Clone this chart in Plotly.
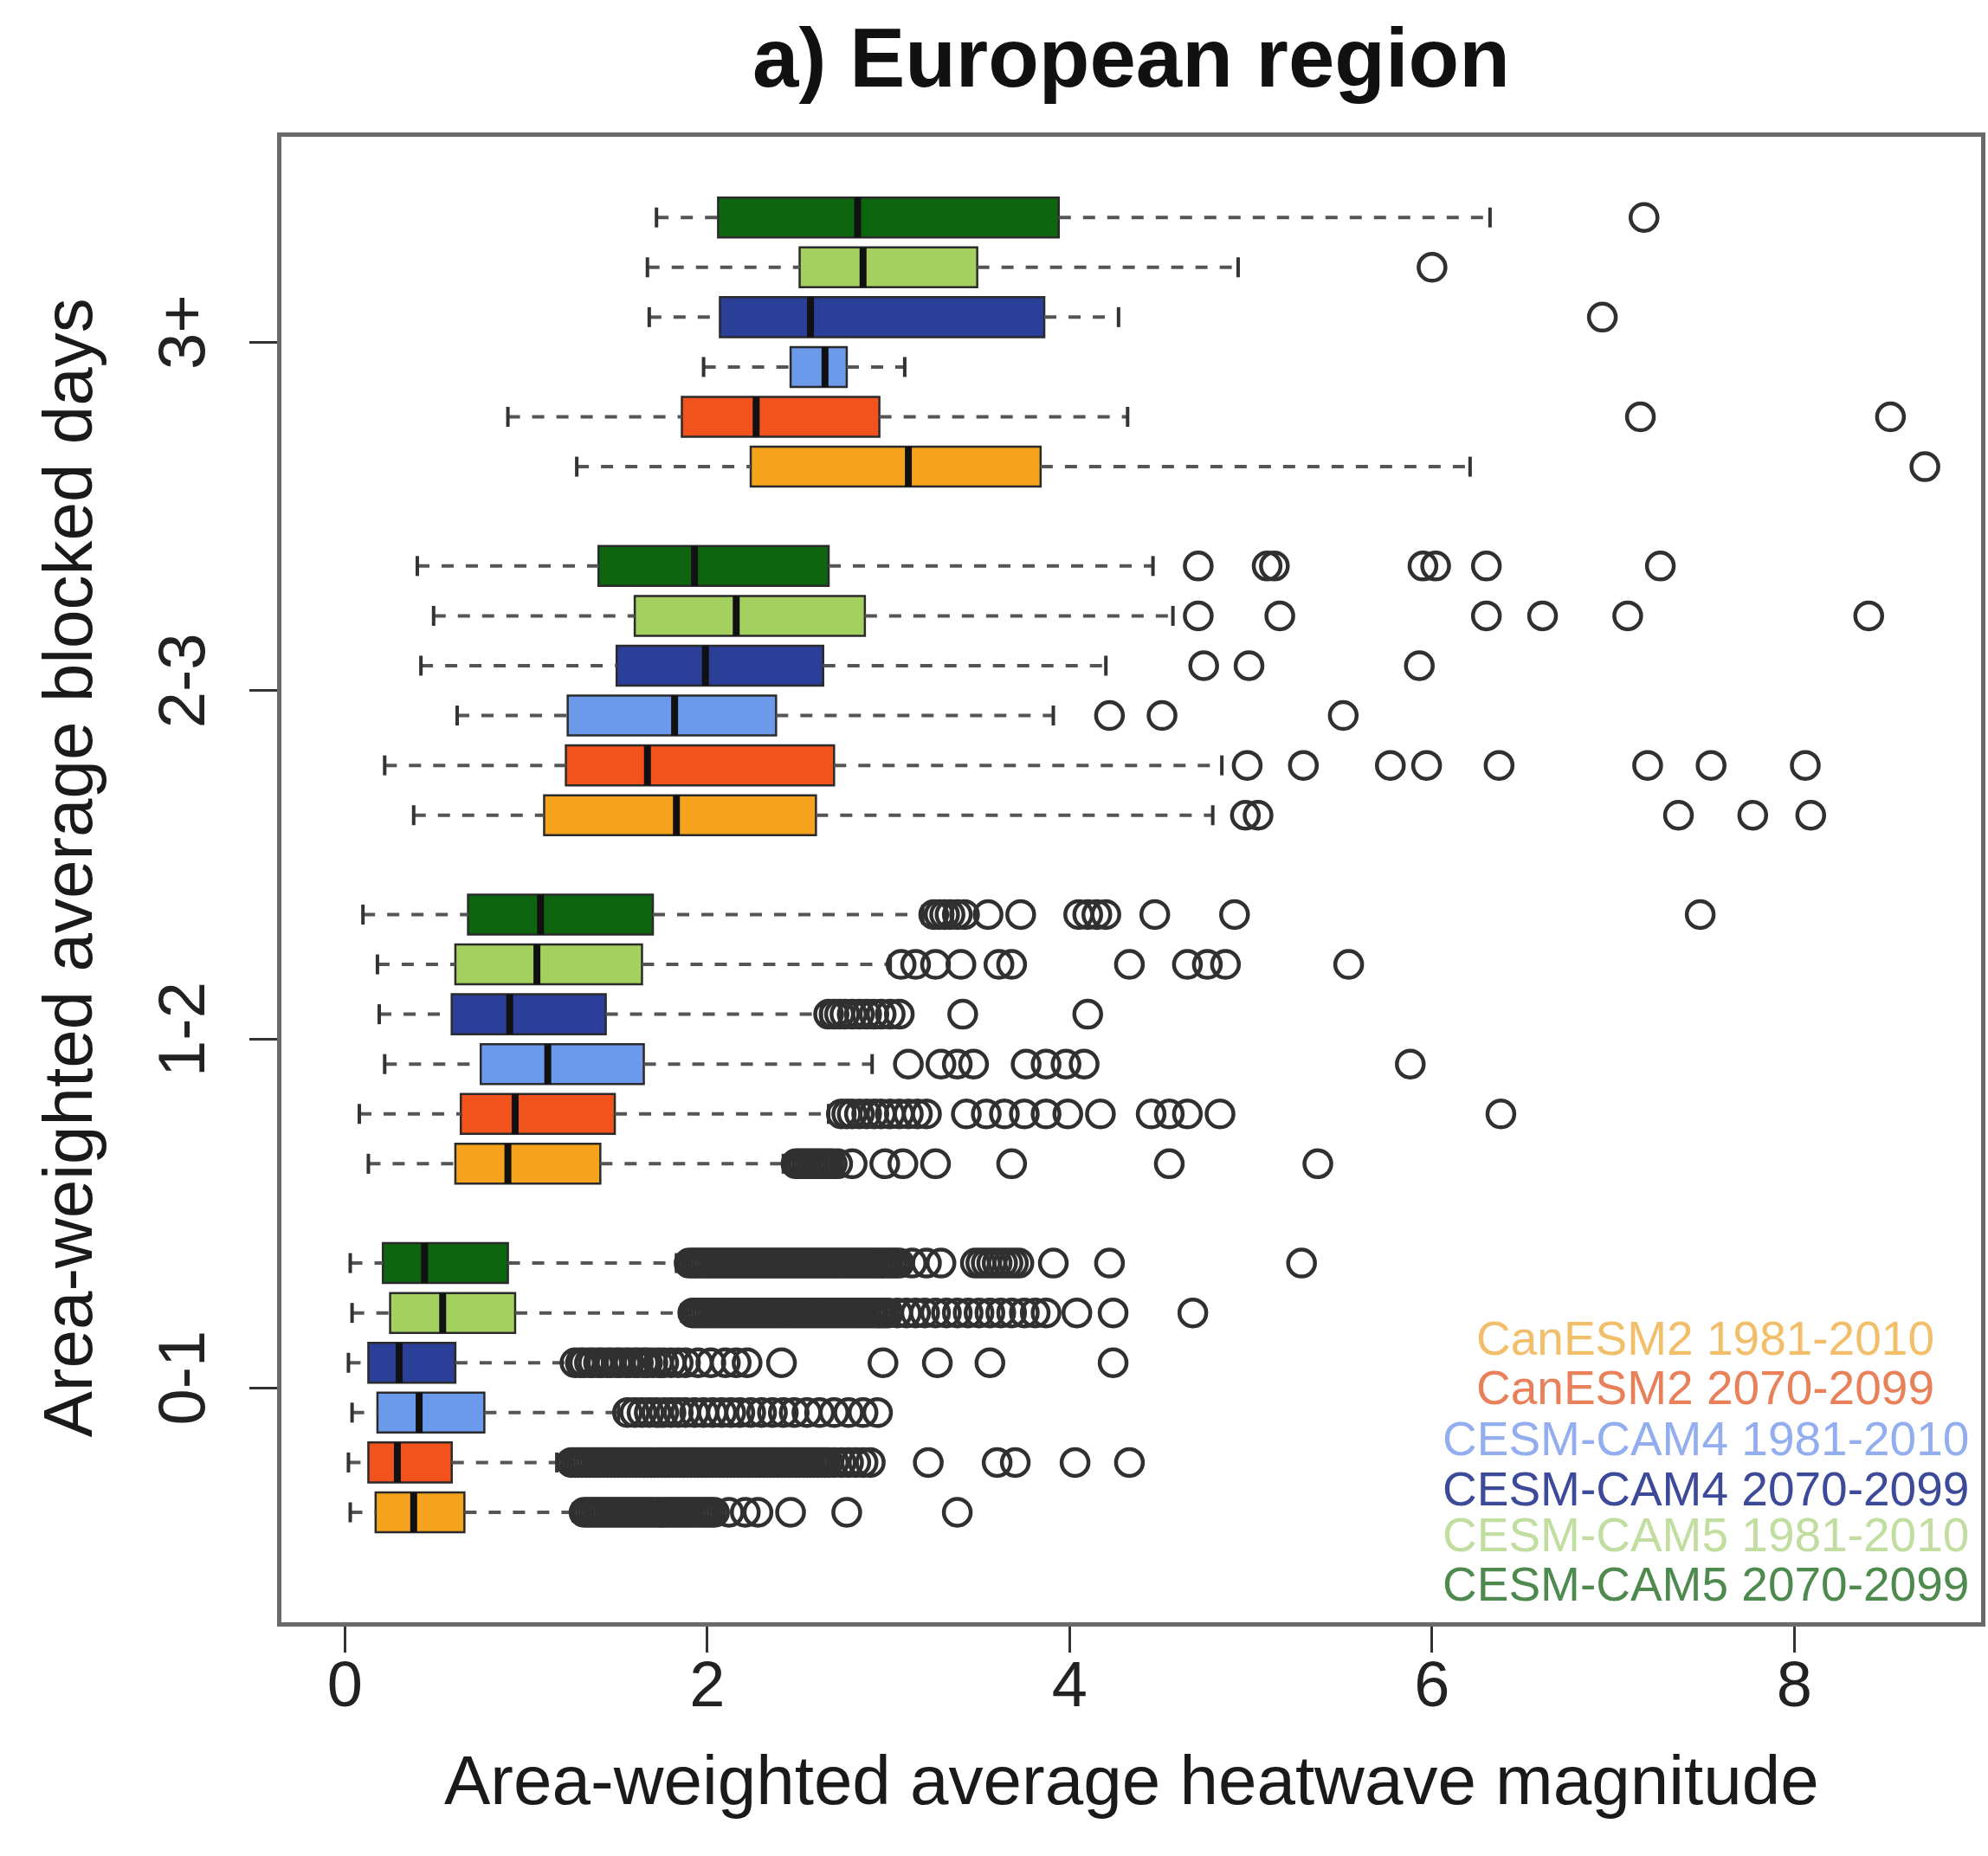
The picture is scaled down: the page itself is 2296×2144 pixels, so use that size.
import plotly.graph_objects as go

# Blocking categories (y axis) and model runs (one box per run in every category)
categories = ["0-1", "1-2", "2-3", "3+"]
series = [
    "CanESM2 1981-2010",
    "CanESM2 2070-2099",
    "CESM-CAM4 1981-2010",
    "CESM-CAM4 2070-2099",
    "CESM-CAM5 1981-2010",
    "CESM-CAM5 2070-2099",
]
box_colors = ["#F5A31C", "#F2521C", "#6B9AEA", "#2B3F98", "#A3D05E", "#0D650F"]
label_colors = ["#F2BE6A", "#E8805A", "#93AEEE", "#3D4A9A", "#C2DDA0", "#4E8A4E"]

# Box statistics: one row per run, columns follow `categories`
whisker_low = [
    [0.03, 0.13, 0.38, 1.28],
    [0.02, 0.08, 0.22, 0.90],
    [0.04, 0.22, 0.62, 1.98],
    [0.02, 0.19, 0.42, 1.68],
    [0.04, 0.18, 0.49, 1.67],
    [0.03, 0.10, 0.40, 1.72],
]
quart_1 = [
    [0.17, 0.61, 1.10, 2.24],
    [0.13, 0.64, 1.22, 1.86],
    [0.18, 0.75, 1.23, 2.46],
    [0.13, 0.59, 1.50, 2.07],
    [0.25, 0.61, 1.60, 2.51],
    [0.21, 0.68, 1.40, 2.06],
]
medians = [
    [0.38, 0.90, 1.83, 3.11],
    [0.29, 0.94, 1.67, 2.27],
    [0.41, 1.12, 1.82, 2.65],
    [0.30, 0.91, 1.99, 2.57],
    [0.54, 1.06, 2.16, 2.86],
    [0.44, 1.08, 1.93, 2.83],
]
quart_3 = [
    [0.66, 1.41, 2.60, 3.84],
    [0.59, 1.49, 2.70, 2.95],
    [0.77, 1.65, 2.38, 2.77],
    [0.61, 1.44, 2.64, 3.86],
    [0.94, 1.64, 2.87, 3.49],
    [0.90, 1.70, 2.67, 3.94],
]
whisker_high = [
    [1.26, 2.42, 4.79, 6.21],
    [1.17, 2.67, 4.84, 4.32],
    [1.51, 2.91, 3.91, 3.09],
    [1.24, 2.63, 4.20, 4.27],
    [1.86, 3.01, 4.57, 4.93],
    [1.83, 3.19, 4.46, 6.32],
]

# Outlying events per run, one list per category
outliers_canesm2_hist = [
    [1.32, 1.34, 1.36, 1.38, 1.40, 1.42, 1.44, 1.46, 1.48, 1.50, 1.52, 1.54, 1.56,
     1.58, 1.60, 1.62, 1.64, 1.66, 1.68, 1.70, 1.72, 1.74, 1.76, 1.78, 1.80, 1.82,
     1.84, 1.86, 1.88, 1.90, 1.92, 1.94, 1.96, 1.98, 2.00, 2.02, 2.04, 2.12, 2.21,
     2.28, 2.46, 2.77, 3.38],
    [2.49, 2.51, 2.53, 2.55, 2.57, 2.59, 2.61, 2.63, 2.65, 2.67, 2.69, 2.72, 2.80,
     2.98, 3.08, 3.26, 3.68, 4.55, 5.37],
    [4.97, 5.04, 7.36, 7.77, 8.09],
    [8.72],
]
outliers_canesm2_fut = [
    [1.25, 1.27, 1.29, 1.31, 1.33, 1.35, 1.37, 1.39, 1.41, 1.43, 1.45, 1.47, 1.49,
     1.51, 1.53, 1.55, 1.57, 1.59, 1.61, 1.63, 1.65, 1.67, 1.69, 1.71, 1.73, 1.75,
     1.77, 1.79, 1.81, 1.83, 1.85, 1.87, 1.89, 1.91, 1.93, 1.95, 1.97, 1.99, 2.01,
     2.03, 2.05, 2.07, 2.09, 2.11, 2.13, 2.15, 2.17, 2.19, 2.21, 2.23, 2.25, 2.27,
     2.29, 2.31, 2.33, 2.35, 2.37, 2.39, 2.41, 2.43, 2.45, 2.47, 2.49, 2.51, 2.53,
     2.55, 2.57, 2.59, 2.61, 2.63, 2.65, 2.67, 2.70, 2.74, 2.78, 2.82, 2.86, 2.90,
     3.22, 3.60, 3.70, 4.03, 4.33],
    [2.74, 2.77, 2.80, 2.84, 2.88, 2.92, 2.96, 3.01, 3.06, 3.11, 3.16, 3.21, 3.43,
     3.54, 3.64, 3.75, 3.87, 3.99, 4.17, 4.45, 4.55, 4.65, 4.83, 6.38],
    [4.98, 5.29, 5.77, 5.97, 6.37, 7.19, 7.54, 8.06],
    [7.15, 8.53],
]
outliers_cam4_hist = [
    [1.56, 1.60, 1.64, 1.68, 1.72, 1.76, 1.80, 1.84, 1.88, 1.93, 1.98, 2.03, 2.08,
     2.13, 2.18, 2.24, 2.30, 2.36, 2.42, 2.48, 2.55, 2.62, 2.70, 2.78, 2.86, 2.94],
    [3.11, 3.29, 3.38, 3.47, 3.76, 3.87, 3.98, 4.08, 5.88],
    [4.22, 4.51, 5.51],
    [],
]
outliers_cam4_fut = [
    [1.27, 1.30, 1.32, 1.35, 1.37, 1.40, 1.42, 1.45, 1.47, 1.50, 1.52, 1.55, 1.57,
     1.60, 1.62, 1.65, 1.67, 1.70, 1.73, 1.76, 1.80, 1.84, 1.88, 1.95, 2.02, 2.10,
     2.16, 2.22, 2.41, 2.97, 3.27, 3.56, 4.24],
    [2.67, 2.70, 2.73, 2.76, 2.80, 2.84, 2.88, 2.92, 2.96, 3.01, 3.06, 3.41, 4.10],
    [4.74, 4.99, 5.93],
    [6.94],
]
outliers_cam5_hist = [
    [1.92, 1.94, 1.96, 1.98, 2.00, 2.02, 2.04, 2.06, 2.08, 2.10, 2.12, 2.14, 2.16,
     2.18, 2.20, 2.22, 2.24, 2.26, 2.28, 2.30, 2.32, 2.34, 2.36, 2.38, 2.40, 2.42,
     2.44, 2.46, 2.48, 2.50, 2.52, 2.54, 2.56, 2.58, 2.60, 2.62, 2.64, 2.66, 2.68,
     2.70, 2.72, 2.74, 2.76, 2.78, 2.80, 2.82, 2.84, 2.86, 2.88, 2.90, 2.92, 2.94,
     2.96, 2.98, 3.00, 3.05, 3.10, 3.15, 3.20, 3.26, 3.32, 3.38, 3.44, 3.50, 3.56,
     3.62, 3.68, 3.75, 3.81, 3.87, 4.04, 4.24, 4.68],
    [3.07, 3.15, 3.26, 3.40, 3.61, 3.68, 4.33, 4.65, 4.76, 4.86, 5.54],
    [4.71, 5.16, 6.30, 6.61, 7.08, 8.41],
    [6.00],
]
outliers_cam5_fut = [
    [1.90, 1.92, 1.94, 1.96, 1.98, 2.00, 2.02, 2.04, 2.06, 2.08, 2.10, 2.12, 2.14,
     2.16, 2.18, 2.20, 2.22, 2.24, 2.26, 2.28, 2.30, 2.32, 2.34, 2.36, 2.38, 2.40,
     2.42, 2.44, 2.46, 2.48, 2.50, 2.52, 2.54, 2.56, 2.58, 2.60, 2.62, 2.64, 2.66,
     2.68, 2.70, 2.72, 2.74, 2.76, 2.78, 2.80, 2.82, 2.84, 2.86, 2.88, 2.90, 2.92,
     2.94, 2.96, 2.98, 3.00, 3.02, 3.04, 3.06, 3.13, 3.21, 3.29, 3.48, 3.51, 3.54,
     3.57, 3.60, 3.63, 3.66, 3.69, 3.72, 3.91, 4.22, 5.28],
    [3.25, 3.28, 3.31, 3.34, 3.38, 3.42, 3.55, 3.73, 4.05, 4.10, 4.15, 4.20, 4.47,
     4.91, 7.48],
    [4.71, 5.09, 5.13, 5.95, 6.02, 6.30, 7.26],
    [7.17],
]
outliers = [
    outliers_canesm2_hist, outliers_canesm2_fut,
    outliers_cam4_hist, outliers_cam4_fut,
    outliers_cam5_hist, outliers_cam5_fut,
]

x_ticks = [0, 2, 4, 6, 8]

# Geometry of the grouped boxes (in category units)
BOX_STEP = 0.143
BOX_H = 0.8 * BOX_STEP
CAP_H = 0.5 * BOX_H
FONT = "Liberation Sans, Arial, Helvetica, sans-serif"


def ypos(i, j):
    return (j + 1) + (i - 2.5) * BOX_STEP


fig = go.Figure()

# Boxes (drawn first so every line/marker layer sits on top)
for i, name in enumerate(series):
    ys = [ypos(i, j) for j in range(len(categories))]
    fig.add_trace(go.Bar(
        orientation="h",
        y=ys,
        base=quart_1[i],
        x=[q3 - q1 for q1, q3 in zip(quart_1[i], quart_3[i])],
        width=BOX_H,
        marker=dict(color=box_colors[i], line=dict(color="#2b2b2b", width=2.5)),
        name=name,
        showlegend=False,
        hoverinfo="skip",
    ))

# Dashed whiskers and their end staples
for i in range(len(series)):
    wx, wy, cx, cy = [], [], [], []
    for j in range(len(categories)):
        y = ypos(i, j)
        wx += [whisker_low[i][j], quart_1[i][j], None, quart_3[i][j], whisker_high[i][j], None]
        wy += [y, y, None, y, y, None]
        for end in (whisker_low[i][j], whisker_high[i][j]):
            cx += [end, end, None]
            cy += [y - CAP_H / 2, y + CAP_H / 2, None]
    fig.add_trace(go.Scatter(x=wx, y=wy, mode="lines", showlegend=False, hoverinfo="skip",
                             line=dict(color="#555555", width=4, dash="14px,14px")))
    fig.add_trace(go.Scatter(x=cx, y=cy, mode="lines", showlegend=False, hoverinfo="skip",
                             line=dict(color="#333333", width=4)))

# Median bars
for i in range(len(series)):
    mx, my = [], []
    for j in range(len(categories)):
        y = ypos(i, j)
        mx += [medians[i][j], medians[i][j], None]
        my += [y - BOX_H / 2, y + BOX_H / 2, None]
    fig.add_trace(go.Scatter(x=mx, y=my, mode="lines", showlegend=False, hoverinfo="skip",
                             line=dict(color="#111111", width=8)))

# Outliers as open circles
for i in range(len(series)):
    ox, oy = [], []
    for j in range(len(categories)):
        ox += outliers[i][j]
        oy += [ypos(i, j)] * len(outliers[i][j])
    fig.add_trace(go.Scatter(x=ox, y=oy, mode="markers", showlegend=False, hoverinfo="skip",
                             marker=dict(symbol="circle-open", size=31, color="#303030",
                                         line=dict(width=4.5, color="#303030"))))

# Run labels written in their colours
legend_y = [0.191, 0.158, 0.1235, 0.090, 0.0588, 0.0256]
for name, col, ly in zip(series, label_colors, legend_y):
    fig.add_annotation(text=name, xref="paper", yref="paper", x=0.838, y=ly,
                       xanchor="center", yanchor="middle", showarrow=False, borderpad=0,
                       font=dict(family=FONT, size=55, color=col))

# Axis titles
fig.add_annotation(text="Area-weighted average heatwave magnitude", xref="paper", yref="paper",
                   x=0.5, y=-0.1066, xanchor="center", yanchor="middle", showarrow=False,
                   font=dict(family=FONT, size=80, color="#1a1a1a"))
fig.add_annotation(text="Area-weighted average blocked days", xref="paper", yref="paper",
                   x=-0.1255, y=0.5076, xanchor="center", yanchor="middle", showarrow=False,
                   textangle=-90, font=dict(family=FONT, size=80, color="#1a1a1a"))

fig.update_layout(
    width=2296,
    height=2144,
    margin=dict(l=325, r=3, t=158, b=270),
    paper_bgcolor="white",
    plot_bgcolor="white",
    barmode="overlay",
    showlegend=False,
    title=dict(text="<b>a) European region</b>", x=0.5, xref="paper", y=1 - 66 / 2144,
               yref="container", xanchor="center", yanchor="middle",
               font=dict(family=FONT, size=96, color="#111111")),
    font=dict(family=FONT, color="#1a1a1a"),
)
fig.update_xaxes(
    range=[-0.35, 9.03], tickvals=x_ticks, ticktext=[str(t) for t in x_ticks],
    ticks="outside", ticklen=30, tickwidth=3, tickcolor="#333333",
    showline=True, mirror=True, linecolor="#6a6a6a", linewidth=5,
    showgrid=False, zeroline=False, ticklabelstandoff=-27,
    tickfont=dict(family=FONT, size=74, color="#222222"),
)
fig.update_yaxes(
    range=[0.327, 4.589], tickvals=[1, 2, 3, 4], ticktext=categories, tickangle=-90,
    ticks="outside", ticklen=32, tickwidth=3, tickcolor="#333333",
    showline=True, mirror=True, linecolor="#6a6a6a", linewidth=5,
    showgrid=False, zeroline=False, ticklabelstandoff=22,
    tickfont=dict(family=FONT, size=76, color="#222222"),
)

fig.write_html("out.html")
